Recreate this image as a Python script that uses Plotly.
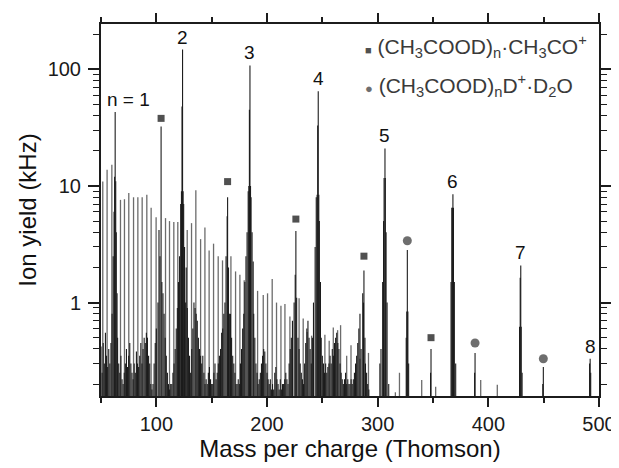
import numpy as np
import plotly.graph_objects as go

# ---------------- data ----------------
# labelled cluster peaks (CH3COOD)n D+
main_mass = [62.8, 123.7, 184.6, 246.3, 306.6, 368.0, 429.3, 492.0]
main_yield = [43, 148, 108, 65, 21, 8.5, 2.08, 0.33]
main_label = ["n = 1", "2", "3", "4", "5", "6", "7", "8"]

# (CH3COOD)n·CH3CO+ series (squares)
sq_mass = [104.3, 164.4, 226.1, 287.6, 348.2]
sq_yield = [32.4, 8.0, 4.1, 1.88, 0.40]
sq_marker = [38, 10.9, 5.2, 2.5, 0.50]

# (CH3COOD)n D+·D2O series (circles)
ci_mass = [326.8, 388.0, 449.7]
ci_yield = [2.83, 0.37, 0.28]
ci_marker = [3.39, 0.45, 0.33]

# peak-body (width / isotope) sticks around the main peaks
body_mass = [60.0, 61.0, 61.8, 62.3, 63.3, 63.8, 64.5,
             121.0, 122.0, 122.7, 123.2, 124.2, 124.7, 125.5, 126.5,
             182.0, 183.0, 183.6, 184.1, 185.1, 185.6, 186.5, 187.5,
             243.5, 244.5, 245.3, 245.8, 246.8, 247.3, 248.3,
             304.5, 305.3, 305.8, 306.9, 307.6, 308.5,
             366.3, 367.0, 367.5, 368.5, 369.3, 370.5,
             428.2, 428.8, 429.7, 430.5,
             491.5, 492.5,
             101.5, 102.4, 103.3, 105.0, 106.0,
             163.0, 164.0, 165.2, 166.0,
             224.5, 225.5, 226.8,
             286.5, 287.2, 288.5,
             347.8,
             325.8, 326.3, 327.3, 328.0,
             387.6, 449.2]
body_yield = [0.8, 2.5, 6, 12, 11, 4, 1.2,
              2.5, 7, 9, 48, 9, 7, 3, 1.0,
              4, 9, 10, 45, 10, 8, 4, 2.25,
              3, 8, 8.4, 33, 8.4, 5, 1.5,
              1.5, 5, 11.7, 11.7, 4, 1.0,
              1.5, 6.5, 6.5, 6.5, 1.5, 0.3,
              0.62, 1.63, 0.62, 0.25,
              0.3, 0.25,
              1.0, 4.2, 2.5, 1.5, 1.2,
              2.5, 5.5, 2.0, 0.8,
              1.0, 1.73, 1.1,
              1.2, 1.0, 0.5,
              0.25,
              0.5, 0.84, 0.84, 0.3,
              0.25, 0.2]

# dense low-level (dark) spectrum, 1 Th steps
noise_mass = [50, 51, 52, 53, 54, 55, 56, 57, 58, 59,
              65, 66, 67, 68, 69, 70, 71, 72, 73, 74, 75, 76, 77, 78, 79,
              80, 81, 82, 83, 84, 85, 86, 87, 88, 89, 90, 91, 92, 93, 94,
              95, 96, 97, 98, 99, 100, 107, 108, 109, 110, 111, 112, 113, 114,
              115, 116, 117, 118, 119, 120, 127, 128, 129, 130, 131, 132, 133,
              134, 135, 136, 137, 138, 139, 140, 141, 142, 143, 144, 145, 146,
              147, 148, 149, 150, 151, 152, 153, 154, 155, 156, 157, 158, 159,
              160, 161, 162, 167, 168, 169, 170, 171, 172, 173, 174, 175, 176,
              177, 178, 179, 180, 181, 188, 189, 190, 191, 192, 193, 194, 195,
              196, 197, 198, 199, 200, 201, 202, 203, 204, 205, 206, 207, 208,
              209, 210, 211, 212, 213, 214, 215, 216, 217, 218, 219, 220, 221,
              222, 223, 228, 229, 230, 231, 232, 233, 234, 235, 236, 237, 238,
              239, 240, 241, 242, 249, 250, 251, 252, 253, 254, 255, 256, 257,
              258, 259, 260, 261, 262, 263, 264, 265, 266, 267, 268, 269, 270,
              271, 272, 273, 274, 275, 276, 277, 278, 279, 280, 281, 282, 283,
              284, 285, 289, 290, 291, 292, 302, 303, 310, 311]
noise_yield = [0.42, 0.25, 0.45, 0.3, 0.55, 0.35, 0.28, 0.4, 0.3, 0.45,
               0.5, 0.3, 0.25, 0.35, 0.22, 0.2, 0.25, 0.3, 0.4, 0.28, 0.35, 0.45, 0.3, 0.25, 0.22,
               0.3, 0.25, 0.38, 0.3, 0.28, 0.35, 0.45, 0.3, 0.4, 0.5, 0.45, 0.55, 0.5, 0.35, 0.3,
               0.2, 0.18, 0.2, 0.3, 0.45, 0.6, 0.8, 0.5, 0.35, 0.25, 0.2, 0.18, 0.2, 0.2,
               0.25, 0.3, 0.4, 0.6, 0.9, 1.5, 2.0, 0.9, 0.5, 0.35, 0.25, 0.4, 0.6,
               1.0, 0.9, 0.8, 0.7, 0.5, 0.4, 0.35, 0.3, 0.35, 0.25, 0.2, 0.22, 0.2,
               0.25, 0.28, 0.22, 0.2, 0.2, 0.25, 0.3, 0.22, 0.25, 0.3, 0.35, 0.4, 0.55,
               0.6, 0.8, 1.0, 0.8, 0.5, 0.35, 0.3, 0.25, 0.2, 0.2, 0.22, 0.2, 0.3,
               0.4, 0.6, 0.8, 1.5, 2.5, 0.8, 0.5, 0.3, 0.25, 0.2, 0.22, 0.25, 0.3,
               0.35, 0.4, 0.38, 0.3, 0.25, 0.22, 0.2, 0.22, 0.18, 0.2, 0.18, 0.25, 0.28,
               0.22, 0.2, 0.18, 0.22, 0.18, 0.2, 0.2, 0.22, 0.25, 0.22, 0.2, 0.3, 0.4,
               0.5, 0.7, 0.5, 0.4, 0.3, 0.25, 0.22, 0.2, 0.3, 0.45, 0.6, 0.7, 0.5,
               0.4, 0.3, 0.5, 1.0, 0.5, 0.35, 0.3, 0.25, 0.3, 0.25, 0.28, 0.3, 0.35,
               0.3, 0.4, 0.35, 0.45, 0.5, 0.55, 0.45, 0.4, 0.3, 0.25, 0.22, 0.2, 0.22,
               0.25, 0.2, 0.22, 0.2, 0.2, 0.22, 0.2, 0.22, 0.25, 0.3, 0.35, 0.45,
               0.6, 0.8, 0.4, 0.3, 0.25, 0.2, 0.18, 0.3, 0.4, 0.2]

# regularly spaced gray sticks
gray_mass = [51.6, 55.5, 59.8, 67.6, 71.2, 75.1, 79.4, 83.3, 87.2, 91.4, 95.3, 99.8,
             108.3, 111.9, 115.8, 119.4, 127.9, 131.8, 135.7, 140.0, 143.9, 147.7,
             151.7, 155.9, 159.8, 167.4, 171.6, 175.5, 179.4, 191.5, 196.6, 200.5,
             204.7, 208.6, 212.6, 216.2, 220.7, 229.0, 232.7, 236.3, 240.3, 252.3,
             256.2, 259.9, 263.8, 266.5, 272.0, 275.9, 280.1, 284.0, 291.7, 316.0,
             319.7, 339.8, 352.4, 393.1, 408.1]
gray_yield = [10.9, 13.8, 15.2, 7.6, 7.7, 8.7, 8.0, 8.0, 8.0, 8.4, 6.5, 5.4,
              5.3, 5.0, 4.9, 4.9, 4.2, 4.8, 9.2, 3.5, 4.4, 2.8,
              3.2, 2.5, 2.3, 2.5, 1.85, 1.73, 1.55, 1.26, 1.16, 1.2,
              1.59, 1.0, 0.94, 0.97, 0.76, 1.09, 0.73, 0.56, 0.52, 0.53,
              0.47, 0.61, 0.58, 0.64, 0.35, 0.43, 0.29, 0.33, 0.37, 0.17,
              0.25, 0.217, 0.19, 0.217, 0.197]

x_ticks = [100, 200, 300, 400, 500]
y_ticks = [1, 10, 100]
y_tick_text = ["1", "10", "100"]

FLOOR = 0.1  # below the visible y range: sticks start at the axis


def sticks(masses, values):
    xs, ys = [], []
    for m, v in zip(masses, values):
        xs += [m, m, None]
        ys += [FLOOR, v, None]
    return xs, ys


FONT = "Arial, 'Liberation Sans', Arimo, sans-serif"
INK = "#1c1c1c"

fig = go.Figure()

gx, gy = sticks(gray_mass, gray_yield)
fig.add_trace(go.Scatter(x=gx, y=gy, mode="lines", line=dict(color="#6c6c6c", width=1.3),
                         hoverinfo="skip", showlegend=False))

for mm, vv in [(noise_mass, noise_yield), (body_mass, body_yield),
               (sq_mass, sq_yield), (ci_mass, ci_yield), (main_mass, main_yield)]:
    bx, by = sticks(mm, vv)
    fig.add_trace(go.Scatter(x=bx, y=by, mode="lines", line=dict(color=INK, width=1.1),
                             hoverinfo="skip", showlegend=False))

fig.add_trace(go.Scatter(x=sq_mass, y=sq_marker, mode="markers",
                         marker=dict(symbol="square", size=7, color="#505050"),
                         name="(CH<sub>3</sub>COOD)<sub>n</sub>·CH<sub>3</sub>CO<sup>+</sup>",
                         showlegend=False))
fig.add_trace(go.Scatter(x=ci_mass, y=ci_marker, mode="markers",
                         marker=dict(symbol="circle", size=9, color="#6e6e6e"),
                         name="(CH<sub>3</sub>COOD)<sub>n</sub>D<sup>+</sup>·D<sub>2</sub>O",
                         showlegend=False))

annotations = []
for i, (m, v, t) in enumerate(zip(main_mass, main_yield, main_label)):
    annotations.append(dict(x=m, y=np.log10(v), xref="x", yref="y", text=t,
                            showarrow=False, yanchor="bottom",
                            xshift=13 if i == 0 else 0, yshift=0,
                            font=dict(family=FONT, size=19, color="#111")))

annotations.append(dict(
    x=0.527, y=0.939, xref="paper", yref="paper", xanchor="left", yanchor="middle",
    showarrow=False,
    text="<span style='color:#505050;font-size:11px'>■</span> (CH<sub>3</sub>COOD)<sub>n</sub>·CH<sub>3</sub>CO<sup>+</sup>",
    font=dict(family=FONT, size=21, color="#3a3a3a")))
annotations.append(dict(
    x=0.527, y=0.836, xref="paper", yref="paper", xanchor="left", yanchor="middle",
    showarrow=False,
    text="<span style='color:#6e6e6e;font-size:13px'>●</span> (CH<sub>3</sub>COOD)<sub>n</sub>D<sup>+</sup>·D<sub>2</sub>O",
    font=dict(family=FONT, size=21, color="#3a3a3a")))

# the page adds an 8 px body margin, so the figure is 8 px smaller and margins shifted
fig.update_layout(
    width=611, height=460,
    margin=dict(l=93, r=20, t=16, b=72, autoexpand=False),
    paper_bgcolor="white", plot_bgcolor="white",
    font=dict(family=FONT, color=INK),
    annotations=annotations,
    showlegend=False,
)

fig.update_xaxes(
    range=[50, 500], tickvals=x_ticks, automargin=False,
    showgrid=False, zeroline=False,
    showline=True, linewidth=2, linecolor=INK, mirror="ticks",
    ticks="outside", ticklen=9, tickwidth=1.5, tickcolor=INK,
    minor=dict(dtick=50, tick0=0, ticks="outside", ticklen=5, tickwidth=1.5, tickcolor=INK),
    tickfont=dict(family=FONT, size=20, color="#1a1a1a"),
    ticklabelstandoff=0,
    title=dict(text="Mass per charge (Thomson)", font=dict(family=FONT, size=24, color="#111"),
               standoff=2),
)
fig.update_yaxes(
    type="log", range=[np.log10(0.158), np.log10(245)], automargin=False,
    tickvals=y_ticks, ticktext=y_tick_text,
    showgrid=False, zeroline=False,
    showline=True, linewidth=2, linecolor=INK, mirror="ticks",
    ticks="outside", ticklen=11, tickwidth=1.5, tickcolor=INK,
    minor=dict(dtick="D1", ticks="outside", ticklen=6, tickwidth=1.2, tickcolor=INK),
    tickfont=dict(family=FONT, size=20, color="#1a1a1a"),
    ticklabelstandoff=3,
    title=dict(text="Ion yield (kHz)", font=dict(family=FONT, size=24, color="#111"),
               standoff=4),
)

fig.write_html("out.html")
